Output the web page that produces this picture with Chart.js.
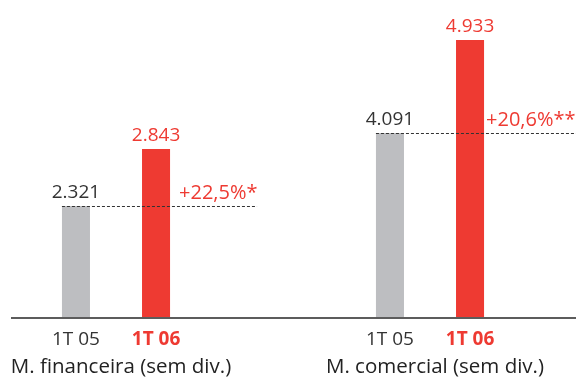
<!DOCTYPE html>
<html>
<head>
<meta charset="utf-8">
<script src="https://cdn.jsdelivr.net/npm/chart.js@4"></script>
<style>body{margin:0;background:#fff}</style>
</head>
<body>
<canvas id="margens" width="576" height="378"></canvas>
<script>
var grupos = ['M. financeira (sem div.)', 'M. comercial (sem div.)'];
var periodos = ['1T 05', '1T 06'];
var valores05 = [2321, 4091];
var valores06 = [2843, 4933];
var crescimento = ['+22,5%*', '+20,6%**'];

var vermelho = '#EE3A32';
var cinza = '#BDBEC1';
var fonte = '"Open Sans", "Noto Sans", sans-serif';
var folga = [9, 2];

// 2321 -> "2.321"
function fmt(v) {
  return String(v).replace(/\B(?=(\d{3})+(?!\d))/g, '.');
}

var rotulos = {
  id: 'rotulos',
  afterDatasetsDraw: function (chart) {
    var ctx = chart.ctx;
    var b05s = chart.getDatasetMeta(0).data;
    var b06s = chart.getDatasetMeta(1).data;
    var base = chart.chartArea.bottom;
    ctx.save();
    // eixo horizontal
    ctx.fillStyle = '#5c5c5c';
    ctx.fillRect(11, base - 1, chart.width - 11, 2);

    b05s.forEach(function (b05, i) {
      var b06 = b06s[i];
      var w = b05.width;
      var fim = i === b05s.length - 1 ? chart.width : b06.x + w / 2 + 87;

      // tracejado no nível do 1T 05
      ctx.strokeStyle = '#333';
      ctx.lineWidth = 1;
      ctx.setLineDash([3, 2]);
      ctx.beginPath();
      ctx.moveTo(b05.x - w / 2, Math.round(b05.y) + 0.5);
      ctx.lineTo(fim, Math.round(b05.y) + 0.5);
      ctx.stroke();
      ctx.setLineDash([]);

      ctx.textBaseline = 'alphabetic';
      ctx.font = '19px ' + fonte;
      ctx.textAlign = 'center';
      ctx.fillStyle = '#333';
      ctx.fillText(fmt(valores05[i]), b05.x, b05.y - 8);
      ctx.fillStyle = vermelho;
      ctx.fillText(fmt(valores06[i]), b06.x, b06.y - 8);

      ctx.textAlign = 'left';
      ctx.font = '20px ' + fonte;
      ctx.fillText(crescimento[i], b06.x + w / 2 + folga[i], b05.y - 7);

      // períodos sob as barras
      ctx.textAlign = 'center';
      ctx.font = '19px ' + fonte;
      ctx.fillStyle = '#333';
      ctx.fillText(periodos[0], b05.x, base + 27);
      ctx.font = 'bold 19px ' + fonte;
      ctx.fillStyle = vermelho;
      ctx.fillText(periodos[1], b06.x, base + 27);

      ctx.font = '20.5px ' + fonte;
      ctx.fillStyle = '#222';
      ctx.fillText(grupos[i], chart.scales.x.getPixelForValue(i) + 5, base + 55);
    });
    ctx.restore();
  }
};

var minimo = -396;

new Chart(document.getElementById('margens'), {
  type: 'bar',
  data: {
    labels: grupos,
    datasets: [{
      label: periodos[0],
      data: valores05,
      backgroundColor: cinza,
      yAxisID: 'y',
      base: minimo,
      clip: false
    }, {
      label: periodos[1],
      data: valores06,
      backgroundColor: vermelho,
      yAxisID: 'y2',
      base: minimo,
      clip: false
    }]
  },
  options: {
    responsive: false,
    animation: false,
    categoryPercentage: 0.51,
    barPercentage: 0.35,
    layout: { padding: { left: 116, right: 146, top: 40, bottom: 60 } },
    plugins: { legend: { display: false }, tooltip: { enabled: false } },
    scales: {
      x: { display: false, offset: false, grid: { offset: false } },
      y: { display: false, min: minimo, max: 6346 },
      y2: { display: false, min: minimo, max: 4933 }
    }
  },
  plugins: [rotulos]
});
</script>
</body>
</html>
